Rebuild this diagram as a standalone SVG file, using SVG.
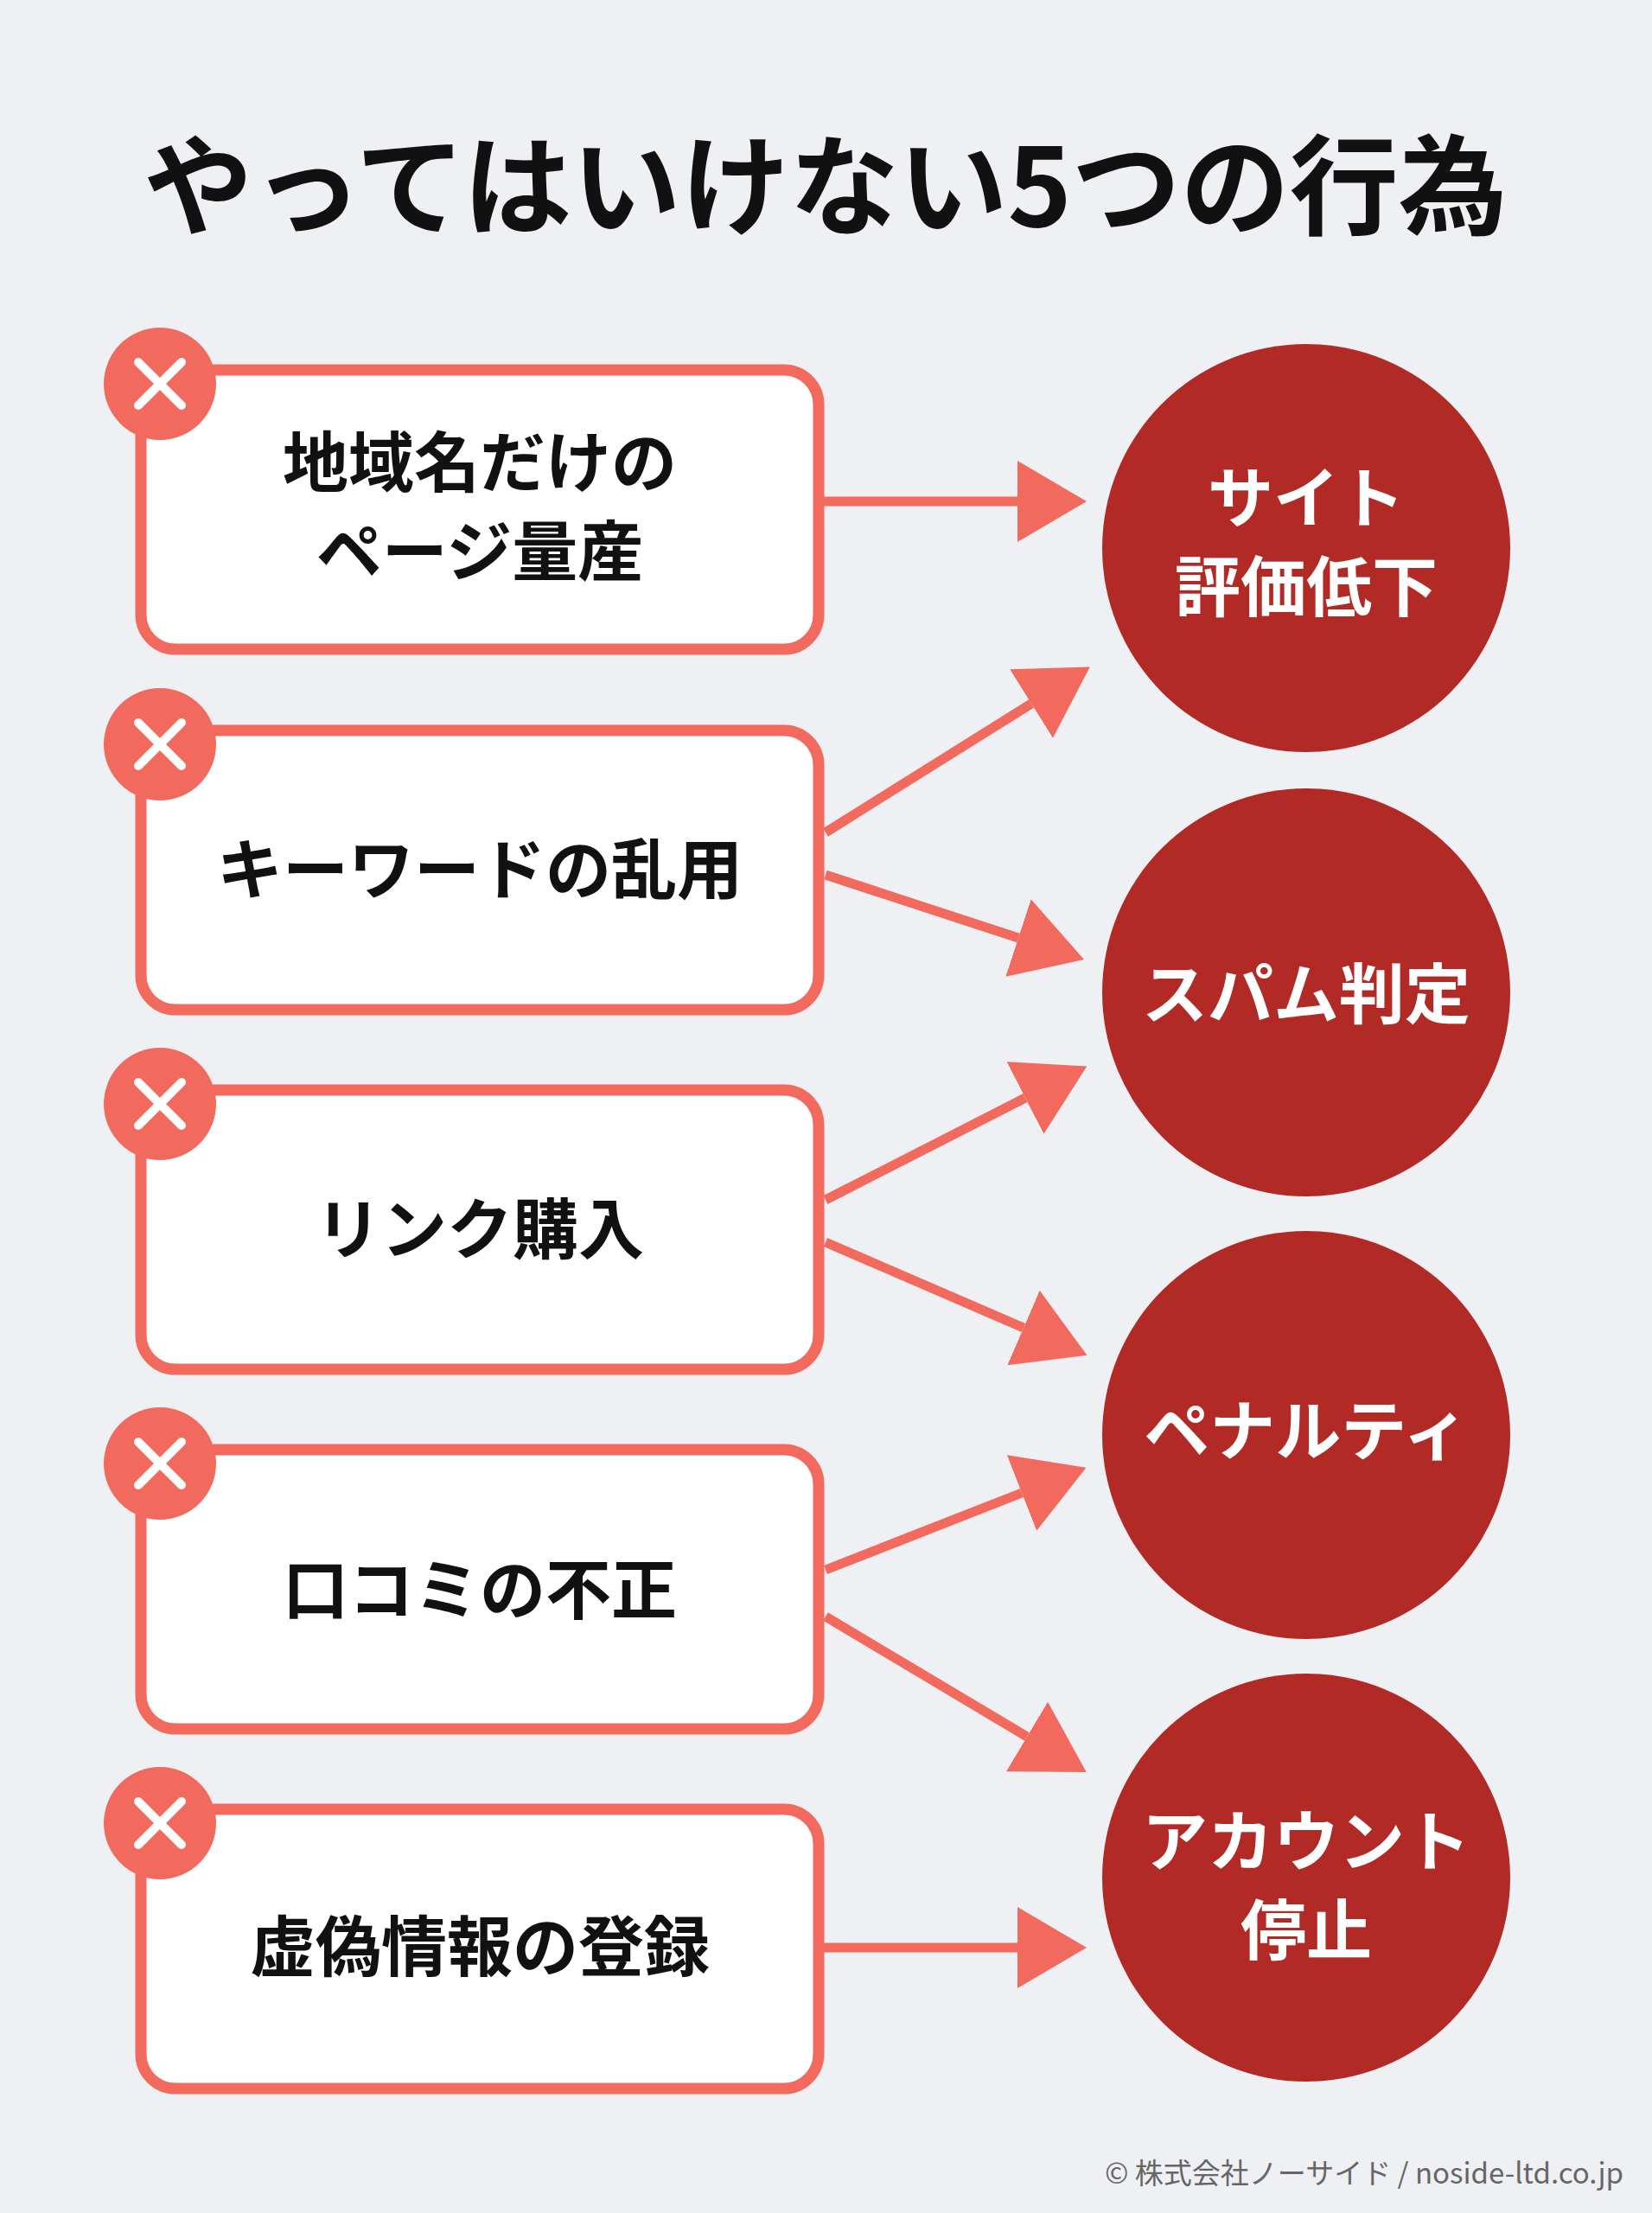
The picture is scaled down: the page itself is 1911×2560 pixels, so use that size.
<svg xmlns="http://www.w3.org/2000/svg" width="1911" height="2560" viewBox="0 0 1911 2560">
<style>
.t{font-family:"Noto Sans CJK JP","Noto Sans",sans-serif;font-weight:700;text-anchor:middle}
.box{fill:#fff;stroke:#f26a5e;stroke-width:13}
.bad{fill:#f26a5e}
.x{stroke:#fff;stroke-width:10;stroke-linecap:round}
.c{fill:#b22a26}
.a{stroke:#f26a5e;stroke-width:11;fill:none}
</style>
<defs>
<marker id="ah" markerUnits="userSpaceOnUse" viewBox="0 -48 80 96" refX="0" refY="0" markerWidth="80" markerHeight="96" orient="auto"><path d="M0,-47 L80,0 L0,47 z" fill="#f26a5e"/></marker>
</defs>
<rect width="1911" height="2560" fill="#eef0f3"/>
<text class="t" x="955" y="262" font-size="126" fill="#111">やってはいけない5つの行為</text>
<g id="connectors">
<path class="a" marker-end="url(#ah)" d="M947,580 L1177,580"/>
<path class="a" marker-end="url(#ah)" d="M955,963 L1193,814"/>
<path class="a" marker-end="url(#ah)" d="M955,1012 L1178,1085"/>
<path class="a" marker-end="url(#ah)" d="M955,1388 L1186,1270"/>
<path class="a" marker-end="url(#ah)" d="M955,1437 L1184,1536"/>
<path class="a" marker-end="url(#ah)" d="M955,1816 L1182,1727"/>
<path class="a" marker-end="url(#ah)" d="M955,1870 L1188,2009"/>
<path class="a" marker-end="url(#ah)" d="M947,2253 L1177,2253"/>
</g>
<g id="b1"><rect class="box" x="163" y="428" width="784" height="323" rx="40"/><circle class="bad" cx="185" cy="444" r="65"/><path class="x" d="M160,419 L210,469 M210,419 L160,469"/><text class="t" x="555" y="563" font-size="76" fill="#111">地域名だけの</text><text class="t" x="555" y="666" font-size="76" fill="#111">ページ量産</text></g>
<g id="b2"><rect class="box" x="163" y="845" width="784" height="323" rx="40"/><circle class="bad" cx="185" cy="861" r="65"/><path class="x" d="M160,836 L210,886 M210,836 L160,886"/><text class="t" x="555" y="1034" font-size="76" fill="#111">キーワードの乱用</text></g>
<g id="b3"><rect class="box" x="163" y="1261" width="784" height="323" rx="40"/><circle class="bad" cx="185" cy="1277" r="65"/><path class="x" d="M160,1252 L210,1302 M210,1252 L160,1302"/><text class="t" x="555" y="1450" font-size="76" fill="#111">リンク購入</text></g>
<g id="b4"><rect class="box" x="163" y="1677" width="784" height="323" rx="40"/><circle class="bad" cx="185" cy="1693" r="65"/><path class="x" d="M160,1668 L210,1718 M210,1668 L160,1718"/><text class="t" x="555" y="1867" font-size="76" fill="#111">口コミの不正</text></g>
<g id="b5"><rect class="box" x="163" y="2093" width="784" height="323" rx="40"/><circle class="bad" cx="185" cy="2109" r="65"/><path class="x" d="M160,2084 L210,2134 M210,2084 L160,2134"/><text class="t" x="555" y="2280" font-size="76" fill="#111">虚偽情報の登録</text></g>
<g id="c1"><circle class="c" cx="1511" cy="634" r="236"/><text class="t" x="1511" y="604" font-size="76" fill="#fff">サイト</text><text class="t" x="1511" y="707" font-size="76" fill="#fff">評価低下</text></g>
<g id="c2"><circle class="c" cx="1511" cy="1148" r="236"/><text class="t" x="1511" y="1178" font-size="76" fill="#fff">スパム判定</text></g>
<g id="c3"><circle class="c" cx="1511" cy="1660" r="236"/><text class="t" x="1511" y="1683" font-size="76" fill="#fff">ペナルティ</text></g>
<g id="c4"><circle class="c" cx="1511" cy="2172" r="236"/><text class="t" x="1511" y="2158" font-size="76" fill="#fff">アカウント</text><text class="t" x="1511" y="2261" font-size="76" fill="#fff">停止</text></g>
<text x="1878" y="2526" font-family="Noto Sans CJK JP,sans-serif" font-size="33" fill="#666" text-anchor="end">© 株式会社ノーサイド / noside-ltd.co.jp</text>
</svg>
